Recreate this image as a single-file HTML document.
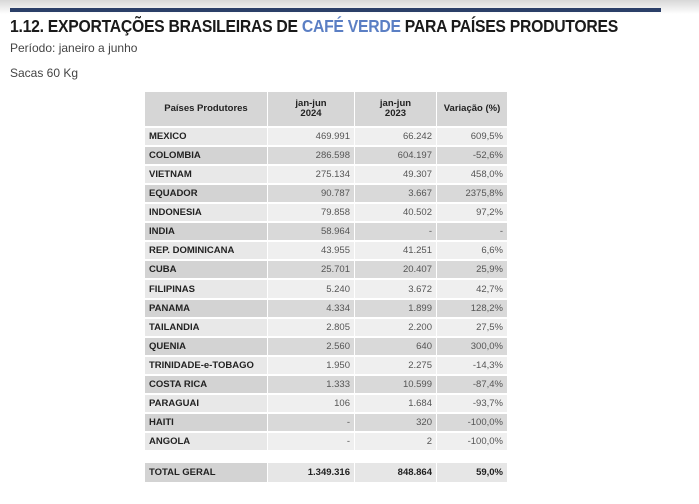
<!DOCTYPE html>
<html><head><meta charset="utf-8"><style>
body{margin:0;width:699px;height:504px;background:#fff;position:relative;overflow:hidden;font-family:"Liberation Sans",sans-serif}
.shade{position:absolute;left:0;top:0;width:699px;height:14px;background:linear-gradient(#d8d8d8,#fff)}
.bar{position:absolute;left:10px;top:8px;width:651px;height:4px;background:#2b3f68}
h1{position:absolute;left:10px;top:16px;margin:0;font-size:17.5px;font-weight:bold;color:#1a1a1a;letter-spacing:-0.3px;transform:scaleX(0.9);transform-origin:left}
h1 span{color:#5b7fc4}
.s{position:absolute;left:10px;font-size:12px;color:#444}
table{position:absolute;left:144px;top:90px;border-collapse:separate;border-spacing:1px 2px;font-size:9.5px}
td{height:17px;padding:0 4px;color:#555;text-align:right}
td:first-child{text-align:left;font-weight:bold;color:#222;width:114px}
td:nth-child(2){width:78px}td:nth-child(3){width:73px}td:nth-child(4){width:62px}
tr.h td{height:34px;background:#d6d6d6;color:#222;font-weight:bold;text-align:center;line-height:10px}
tr.h td:first-child{text-align:center}
tr.a td{background:#efefef}tr.a td:first-child{background:#e8e8e8}
tr.b td{background:#d9d9d9}tr.b td:first-child{background:#d3d3d3}
tr.g td{height:9px;background:#fff}
tr.t td{height:19px;background:#e6e6e6;color:#222;font-weight:bold}tr.t td:first-child{background:#d3d3d3}
tr.x td{height:18px}
</style></head><body>
<div class="shade"></div><div class="bar"></div>
<h1>1.12. EXPORTAÇÕES BRASILEIRAS DE <span>CAFÉ VERDE</span> PARA PAÍSES PRODUTORES</h1>
<div class="s" style="top:41px">Período: janeiro a junho</div>
<div class="s" style="top:66px">Sacas 60 Kg</div>
<table>
<tr class="h"><td>Países Produtores</td><td>jan-jun<br>2024</td><td>jan-jun<br>2023</td><td>Variação (%)</td></tr>
<tr class="a"><td>MEXICO</td><td>469.991</td><td>66.242</td><td>609,5%</td></tr>
<tr class="b"><td>COLOMBIA</td><td>286.598</td><td>604.197</td><td>-52,6%</td></tr>
<tr class="a"><td>VIETNAM</td><td>275.134</td><td>49.307</td><td>458,0%</td></tr>
<tr class="b"><td>EQUADOR</td><td>90.787</td><td>3.667</td><td>2375,8%</td></tr>
<tr class="a"><td>INDONESIA</td><td>79.858</td><td>40.502</td><td>97,2%</td></tr>
<tr class="b"><td>INDIA</td><td>58.964</td><td>-</td><td>-</td></tr>
<tr class="a"><td>REP. DOMINICANA</td><td>43.955</td><td>41.251</td><td>6,6%</td></tr>
<tr class="b"><td>CUBA</td><td>25.701</td><td>20.407</td><td>25,9%</td></tr>
<tr class="a x"><td>FILIPINAS</td><td>5.240</td><td>3.672</td><td>42,7%</td></tr>
<tr class="b"><td>PANAMA</td><td>4.334</td><td>1.899</td><td>128,2%</td></tr>
<tr class="a"><td>TAILANDIA</td><td>2.805</td><td>2.200</td><td>27,5%</td></tr>
<tr class="b"><td>QUENIA</td><td>2.560</td><td>640</td><td>300,0%</td></tr>
<tr class="a"><td>TRINIDADE-e-TOBAGO</td><td>1.950</td><td>2.275</td><td>-14,3%</td></tr>
<tr class="b"><td>COSTA RICA</td><td>1.333</td><td>10.599</td><td>-87,4%</td></tr>
<tr class="a"><td>PARAGUAI</td><td>106</td><td>1.684</td><td>-93,7%</td></tr>
<tr class="b"><td>HAITI</td><td>-</td><td>320</td><td>-100,0%</td></tr>
<tr class="a"><td>ANGOLA</td><td>-</td><td>2</td><td>-100,0%</td></tr>
<tr class="g"><td></td><td></td><td></td><td></td></tr>
<tr class="t"><td>TOTAL GERAL</td><td>1.349.316</td><td>848.864</td><td>59,0%</td></tr>
</table>
</body></html>
